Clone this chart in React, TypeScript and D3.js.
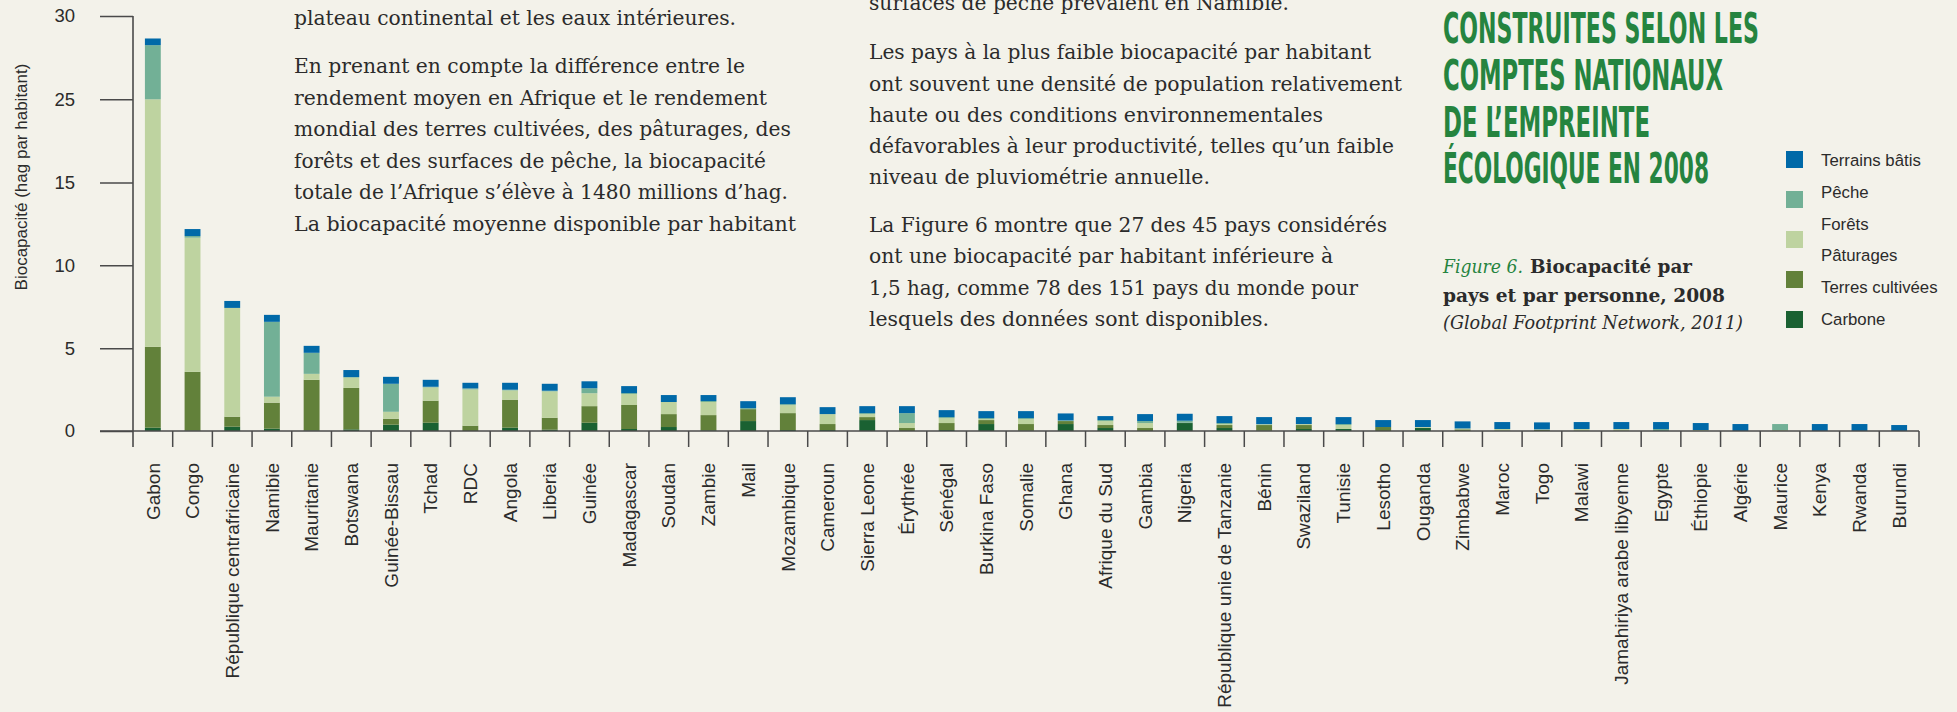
import React, { useEffect, useRef } from "react";
import * as d3 from "d3";

// --- Data ---
const countries = [
  "Gabon", "Congo", "République centrafricaine", "Namibie", "Mauritanie",
  "Botswana", "Guinée-Bissau", "Tchad", "RDC", "Angola", "Liberia", "Guinée",
  "Madagascar", "Soudan", "Zambie", "Mail", "Mozambique", "Cameroun",
  "Sierra Leone", "Érythrée", "Sénégal", "Burkina Faso", "Somalie", "Ghana",
  "Afrique du Sud", "Gambia", "Nigeria", "République unie de Tanzanie", "Bénin",
  "Swaziland", "Tunisie", "Lesotho", "Ouganda", "Zimbabwe", "Maroc", "Togo",
  "Malawi", "Jamahiriya arabe libyenne", "Egypte", "Éthiopie", "Algérie",
  "Maurice", "Kenya", "Rwanda", "Burundi",
];

const carbone = [
  0.2, 0.02, 0.26, 0.14, 0.03, 0.1, 0.38, 0.5, 0, 0.2, 0.08, 0.5, 0.12, 0.24,
  0.04, 0.6, 0.06, 0.06, 0.66, 0, 0.06, 0.42, 0.02, 0.42, 0.18, 0, 0.48, 0.18,
  0.02, 0.12, 0.12, 0, 0.18, 0, 0, 0, 0, 0, 0, 0, 0, 0, 0, 0, 0,
];
const terresCultivees = [
  4.88, 3.55, 0.6, 1.57, 3.06, 2.5, 0.36, 1.33, 0.32, 1.69, 0.72, 1.0, 1.45,
  0.78, 0.92, 0.72, 1.02, 0.36, 0.18, 0.18, 0.42, 0.24, 0.4, 0.18, 0.18, 0.18,
  0.02, 0.18, 0.34, 0.24, 0, 0.24, 0.02, 0.1, 0, 0.06, 0, 0, 0, 0, 0, 0, 0, 0, 0,
];
const foretsPaturages = [
  19.92, 8.1, 6.57, 0.36, 0.36, 0.62, 0.42, 0.8, 2.19, 0.56, 1.59, 0.78, 0.66,
  0.73, 0.79, 0, 0.48, 0.6, 0.18, 0.3, 0.3, 0.06, 0.3, 0, 0.24, 0.3, 0, 0.06,
  0.03, 0.06, 0.24, 0, 0.04, 0.03, 0.12, 0.04, 0.12, 0.12, 0, 0.06, 0, 0.06, 0,
  0, 0,
];
const peche = [
  3.25, 0.1, 0, 4.52, 1.27, 0.04, 1.69, 0.04, 0.06, 0.04, 0.04, 0.3, 0.06, 0,
  0.06, 0.06, 0.06, 0, 0.06, 0.6, 0.06, 0.06, 0.06, 0.04, 0.06, 0.12, 0.12,
  0.06, 0.03, 0, 0.06, 0, 0, 0.03, 0, 0, 0, 0, 0.12, 0, 0, 0.36, 0, 0, 0,
];
const terrainsBatis = [
  0.4, 0.42, 0.42, 0.42, 0.42, 0.42, 0.42, 0.42, 0.34, 0.42, 0.42, 0.42, 0.42,
  0.42, 0.36, 0.42, 0.42, 0.42, 0.42, 0.42, 0.42, 0.42, 0.42, 0.42, 0.24, 0.42,
  0.42, 0.42, 0.42, 0.42, 0.42, 0.42, 0.42, 0.42, 0.42, 0.42, 0.42, 0.42, 0.42,
  0.42, 0.42, 0, 0.42, 0.42, 0.36,
];

const yTicks = [0, 5, 10, 15, 25, 30];

const seriesKeys = ["carbone", "cultivees", "forets", "peche", "batis"];
const seriesColors = ["#1a6132", "#62813a", "#bed3a0", "#72b096", "#0069a8"];

const legendLabels = [
  "Terrains bâtis", "Pêche", "Forêts", "Pâturages", "Terres cultivées", "Carbone",
];
// swatches, top to bottom (five colours for six labels, as in the original)
const legendSwatches = ["#0069a8", "#72b096", "#bed3a0", "#62813a", "#1a6132"];

const titleLines = [
  "CONSTRUITES SELON LES",
  "COMPTES NATIONAUX",
  "DE L’EMPREINTE",
  "ÉCOLOGIQUE EN 2008",
];

// [text, x, baseline, width]
const bodyLines: [string, number, number, number][] = [
  ["plateau continental et les eaux intérieures.", 294, 25, 442],
  ["En prenant en compte la différence entre le", 294, 73, 451],
  ["rendement moyen en Afrique et le rendement", 294, 104.5, 473],
  ["mondial des terres cultivées, des pâturages, des", 294, 136, 497],
  ["forêts et des surfaces de pêche, la biocapacité", 294, 167.5, 472],
  ["totale de l’Afrique s’élève à 1480 millions d’hag.", 294, 199, 494],
  ["La biocapacité moyenne disponible par habitant", 294, 230.5, 502],
  ["surfaces de pêche prévalent en Namibie.", 869, 10, 420],
  ["Les pays à la plus faible biocapacité par habitant", 869, 59, 502],
  ["ont souvent une densité de population relativement", 869, 90.5, 533],
  ["haute ou des conditions environnementales", 869, 121.5, 454],
  ["défavorables à leur productivité, telles qu’un faible", 869, 153, 525],
  ["niveau de pluviométrie annuelle.", 869, 184, 341],
  ["La Figure 6 montre que 27 des 45 pays considérés", 869, 232, 518],
  ["ont une biocapacité par habitant inférieure à", 869, 263, 464],
  ["1,5 hag, comme 78 des 151 pays du monde pour", 869, 295, 489],
  ["lesquels des données sont disponibles.", 869, 326, 400],
];

const W = 1957;
const H = 712;

export default function App() {
  const svgRef = useRef<SVGSVGElement | null>(null);

  useEffect(() => {
    const svg = d3.select(svgRef.current);
    svg.selectAll("*").remove();

    const bg = "#f3f2ea";
    const ink = "#2b2b2b";
    const axisColor = "#4a4a4a";
    const green = "#25843f";

    svg.append("rect").attr("width", W).attr("height", H).attr("fill", bg);

    const left = 133;
    const right = 1919;
    const base = 431;

    // x: one band per country
    const x = d3.scaleBand().domain(countries).range([left, right]).padding(0);
    const barW = x.bandwidth() * 0.4;

    // y: the original axis skips 20, so 15→25 takes one tick step
    const y = d3
      .scaleLinear()
      .domain([0, 15, 25, 30])
      .range([base, 182.5, 99.3, 16]);

    const rows = countries.map((c, i) => ({
      country: c,
      carbone: carbone[i],
      cultivees: terresCultivees[i],
      forets: foretsPaturages[i],
      peche: peche[i],
      batis: terrainsBatis[i],
    }));

    const stack = d3.stack().keys(seriesKeys)(rows as any);
    const color = d3.scaleOrdinal<string, string>().domain(seriesKeys).range(seriesColors);

    // --- Bars ---
    svg
      .append("g")
      .selectAll("g")
      .data(stack)
      .join("g")
      .attr("fill", (d: any) => color(d.key))
      .selectAll("rect")
      .data((d: any) => d)
      .join("rect")
      .attr("x", (d: any) => (x(d.data.country) as number) + (x.bandwidth() - barW) / 2)
      .attr("width", barW)
      .attr("y", (d: any) => y(d[1]))
      .attr("height", (d: any) => Math.max(0, y(d[0]) - y(d[1])));

    // --- Y axis ---
    const yAxis = svg
      .append("g")
      .attr("transform", `translate(${left},0)`)
      .call(
        d3
          .axisLeft(y)
          .tickValues(yTicks)
          .tickSize(33)
          .tickSizeOuter(0)
          .tickPadding(25)
          .tickFormat((d: any) => String(d))
      );
    yAxis.select(".domain").remove();
    yAxis.selectAll("line").attr("stroke", axisColor).attr("stroke-width", 1.5);
    yAxis
      .selectAll("text")
      .attr("fill", ink)
      .style("font-family", "'Liberation Sans', Arial, sans-serif")
      .style("font-size", "18.5px");

    svg
      .append("line")
      .attr("x1", left)
      .attr("x2", left)
      .attr("y1", y(30))
      .attr("y2", base + 16)
      .attr("stroke", axisColor)
      .attr("stroke-width", 1.6);

    // --- X axis ---
    svg
      .append("line")
      .attr("x1", 100)
      .attr("x2", right)
      .attr("y1", base)
      .attr("y2", base)
      .attr("stroke", axisColor)
      .attr("stroke-width", 1.6);

    const bounds = countries.map((c) => x(c) as number).concat([right]);
    svg
      .append("g")
      .selectAll("line")
      .data(bounds.slice(1))
      .join("line")
      .attr("x1", (d) => d)
      .attr("x2", (d) => d)
      .attr("y1", base)
      .attr("y2", base + 16)
      .attr("stroke", axisColor)
      .attr("stroke-width", 1.5);

    svg
      .append("g")
      .selectAll("text")
      .data(countries)
      .join("text")
      .attr(
        "transform",
        (d) => `translate(${(x(d) as number) + x.bandwidth() / 2},463) rotate(-90)`
      )
      .attr("text-anchor", "end")
      .attr("dy", "0.35em")
      .attr("fill", ink)
      .style("font-family", "'Liberation Sans', Arial, sans-serif")
      .style("font-size", "19px")
      .text((d) => d);

    // Y label
    svg
      .append("text")
      .attr("transform", "translate(27,177) rotate(-90)")
      .attr("text-anchor", "middle")
      .attr("fill", ink)
      .style("font-family", "'Liberation Sans', Arial, sans-serif")
      .style("font-size", "17px")
      .text("Biocapacité (hag par habitant)");

    // --- Body text ---
    svg
      .append("g")
      .selectAll("text")
      .data(bodyLines)
      .join("text")
      .attr("x", (d) => d[1])
      .attr("y", (d) => d[2])
      .attr("textLength", (d) => d[3])
      .attr("lengthAdjust", "spacingAndGlyphs")
      .attr("fill", ink)
      .style("font-family", "'DejaVu Serif', serif")
      .style("font-size", "19.5px")
      .text((d) => d[0]);

    // --- Title ---
    const titleWidths = [316, 280, 207, 266];
    const titleBase = [42.7, 89.5, 136.5, 183];
    svg
      .append("g")
      .selectAll("text")
      .data(titleLines)
      .join("text")
      .attr("x", 1443)
      .attr("y", (_d, i) => titleBase[i])
      .attr("textLength", (_d, i) => titleWidths[i])
      .attr("lengthAdjust", "spacingAndGlyphs")
      .attr("fill", green)
      .style("font-family", "'DejaVu Sans Condensed', 'Liberation Sans Narrow', sans-serif")
      .style("font-weight", "bold")
      .style("font-size", "42.5px")
      .text((d) => d);

    // --- Caption ---
    const cap = svg
      .append("g")
      .style("font-family", "'DejaVu Serif', serif")
      .style("font-size", "18.5px");
    cap
      .append("text")
      .attr("x", 1443)
      .attr("y", 273)
      .attr("textLength", 80)
      .attr("lengthAdjust", "spacingAndGlyphs")
      .attr("fill", green)
      .style("font-style", "italic")
      .text("Figure 6.");
    cap
      .append("text")
      .attr("x", 1530)
      .attr("y", 273)
      .attr("textLength", 162)
      .attr("lengthAdjust", "spacingAndGlyphs")
      .attr("fill", ink)
      .style("font-weight", "bold")
      .text("Biocapacité par");
    cap
      .append("text")
      .attr("x", 1443)
      .attr("y", 302)
      .attr("textLength", 282)
      .attr("lengthAdjust", "spacingAndGlyphs")
      .attr("fill", ink)
      .style("font-weight", "bold")
      .text("pays et par personne, 2008");
    cap
      .append("text")
      .attr("x", 1443)
      .attr("y", 329)
      .attr("textLength", 300)
      .attr("lengthAdjust", "spacingAndGlyphs")
      .attr("fill", ink)
      .style("font-style", "italic")
      .text("(Global Footprint Network, 2011)");

    // --- Legend ---
    const legend = svg.append("g");
    legend
      .selectAll("rect")
      .data(legendSwatches)
      .join("rect")
      .attr("x", 1786)
      .attr("y", (_d, i) => 151 + i * 40)
      .attr("width", 17)
      .attr("height", 17)
      .attr("fill", (d) => d);
    legend
      .selectAll("text")
      .data(legendLabels)
      .join("text")
      .attr("x", 1821)
      .attr("y", (_d, i) => 165.7 + i * 31.9)
      .attr("fill", ink)
      .style("font-family", "'Liberation Sans', Arial, sans-serif")
      .style("font-size", "16.8px")
      .text((d) => d);
  }, []);

  return (
    <>
      <style>{`body{margin:0;background:#f3f2ea}`}</style>
      <svg ref={svgRef} width={W} height={H} style={{ display: "block" }} />
    </>
  );
}
